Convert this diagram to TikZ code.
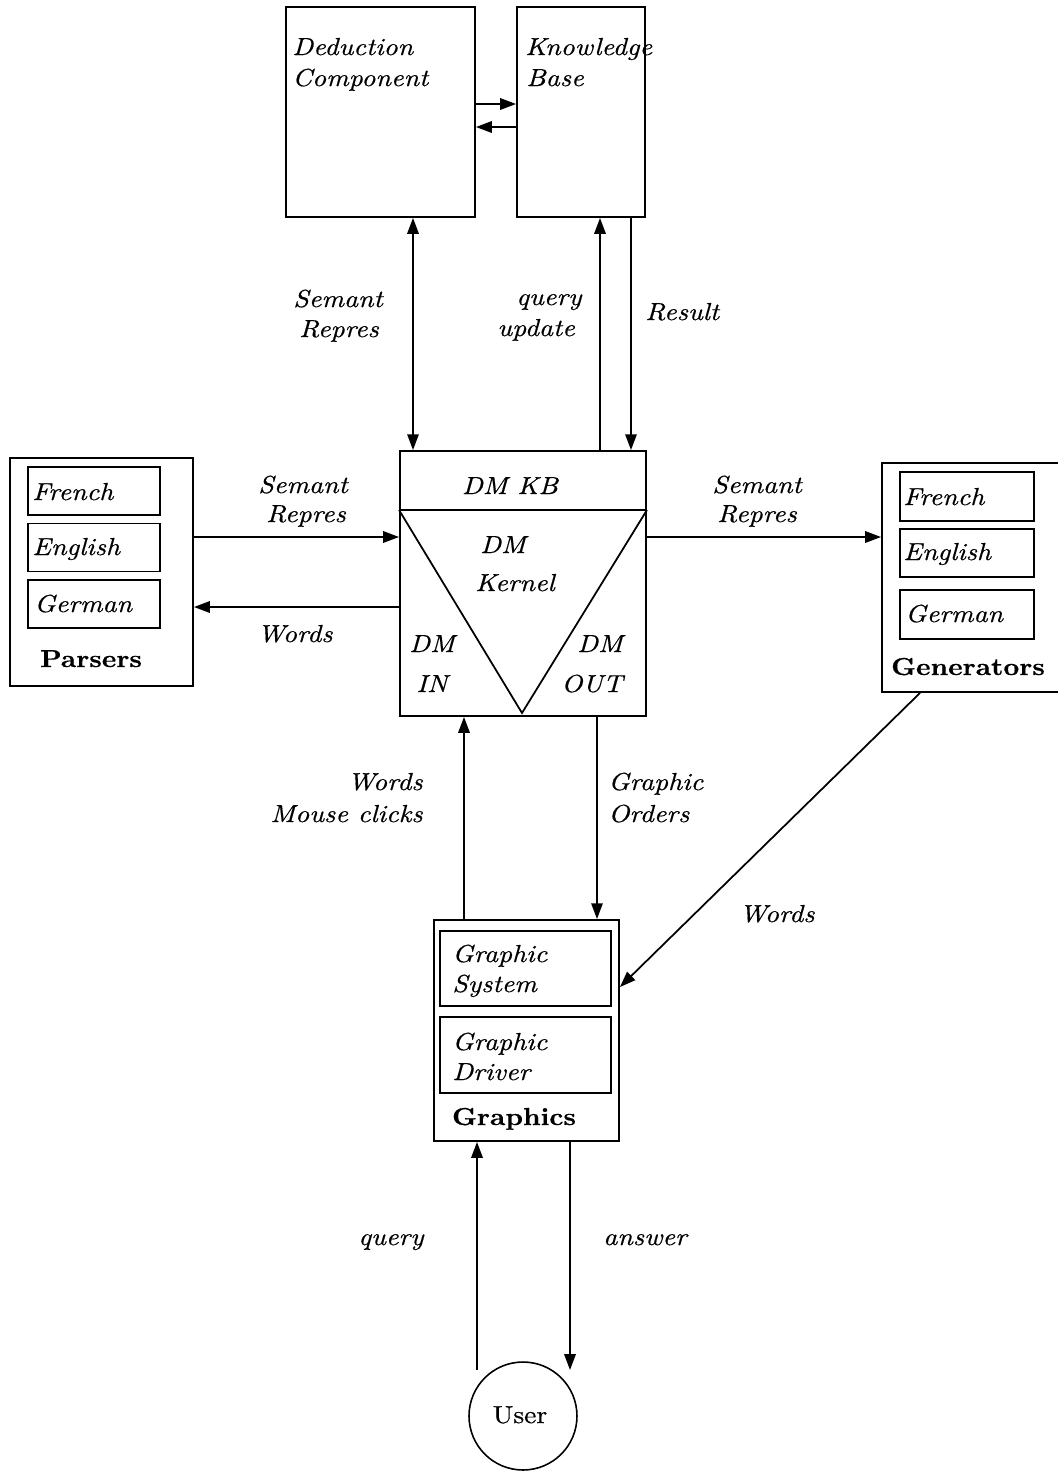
\documentclass[tikz,border=0pt]{standalone}
\usepackage{fontspec}
\setmainfont{lmroman10}[Extension=.otf,UprightFont=*-regular,ItalicFont=*-italic,BoldFont=*-bold,BoldItalicFont=*-bolditalic,FakeStretch=1.12,FakeBold=0.5]
\usetikzlibrary{arrows.meta}
\newcommand\itf{\fontsize{14}{16}\selectfont\itshape}
\newcommand\bff{\fontsize{14}{16}\selectfont\bfseries}
\newcommand\rmf{\fontsize{14}{16}\selectfont}
\begin{document}
\begin{tikzpicture}[x=0.02cm,y=-0.02cm,
 box/.style={draw,line width=1.1pt,inner sep=0pt,rectangle},
 ibox/.style={draw,line width=0.8pt,inner sep=0pt,rectangle},
 tx/.style={inner sep=0pt,font=\itf,anchor=base},
 txw/.style={tx,anchor=base west},
 txe/.style={tx,anchor=base east},
 bt/.style={inner sep=0pt,font=\bff,anchor=base},
 arr/.style={line width=1pt,-{Triangle[length=9pt,width=6.5pt]}},
 darr/.style={line width=1pt,{Triangle[length=9pt,width=6.5pt]}-{Triangle[length=9pt,width=6.5pt]}}]
\fill[white] (0,0) rectangle (1058,1472);
\useasboundingbox (0,0) rectangle (1058,1472);

% ---- boxes ----
\node[box,minimum width=3.78cm,minimum height=4.2cm] (ded) at (380.5,112) {};
\node[box,minimum width=2.56cm,minimum height=4.2cm] (kb) at (581,112) {};
\node[box,minimum width=4.92cm,minimum height=5.3cm] (dm) at (523,583.5) {};
\node[box,minimum width=3.66cm,minimum height=4.56cm] (par) at (101.5,572) {};
\node[ibox,minimum width=2.64cm,minimum height=0.96cm] (pfr) at (94,491) {};
\node[ibox,minimum width=2.64cm,minimum height=0.96cm] (pen) at (94,547.5) {};
\node[ibox,minimum width=2.64cm,minimum height=0.96cm] (pge) at (94,604) {};
\node[box,minimum width=3.76cm,minimum height=4.58cm] (gen) at (976,577.5) {};
\node[ibox,minimum width=2.68cm,minimum height=0.98cm] (gfr) at (967,496.5) {};
\node[ibox,minimum width=2.68cm,minimum height=0.96cm] (gen2) at (967,553) {};
\node[ibox,minimum width=2.68cm,minimum height=0.98cm] (gge) at (967,614.5) {};
\node[box,minimum width=3.7cm,minimum height=4.42cm] (gra) at (526.5,1030.5) {};
\node[ibox,minimum width=3.42cm,minimum height=1.5cm] (gsys) at (525.5,968.5) {};
\node[ibox,minimum width=3.42cm,minimum height=1.52cm] (gdrv) at (525.5,1055) {};
\node[draw,circle,line width=0.9pt,minimum size=2.16cm,inner sep=0pt] (user) at (523,1416) {};

% ---- DM internals ----
\coordinate (kbl) at (0,510);
\coordinate (apex) at (522,713);
\draw[line width=1.1pt] (dm.west |- kbl) -- (dm.east |- kbl);
\draw[line width=1pt] (dm.west |- kbl) -- (apex) -- (dm.east |- kbl);

% ---- texts in boxes ----
\node[txw] at (292,55) {Deduction};
\node[txw] at (292,86) {Component};
\node[txw] at (525,55) {Knowledge};
\node[txw] at (526,86) {Base};
\node[tx] at (510,494) {DM KB};
\node[tx] at (503,553) {DM};
\node[tx] at (515,591) {Kernel};
\node[tx] at (432,652) {DM};
\node[tx] at (432,692) {IN};
\node[tx] at (600,652) {DM};
\node[tx] at (592,692) {OUT};
\node[txw] at (32,500) {French};
\node[txw] at (32,555) {English};
\node[txw] at (34,612) {German};
\node[bt] at (91,667) {Parsers};
\node[txw] at (903,505) {French};
\node[txw] at (903,560) {English};
\node[txw] at (905,622) {German};
\node[bt] at (968,675) {Generators};
\node[txw] at (452,962) {Graphic};
\node[txw] at (452,992) {System};
\node[txw] at (452,1050) {Graphic};
\node[txw] at (452,1080) {Driver};
\node[bt] at (514,1125) {Graphics};
\node[inner sep=0pt,font=\rmf,anchor=base] at (520,1423) {User};

% ---- connector anchors ----
\coordinate (y1) at (0,104);
\coordinate (y2) at (0,127);
\coordinate (xs) at (413,0);
\coordinate (xq) at (600,0);
\coordinate (xr) at (631,0);
\coordinate (ysr) at (0,537);
\coordinate (yw) at (0,607);
\coordinate (xg) at (920,0);
\coordinate (yg) at (0,987);
\coordinate (xw) at (464,0);
\coordinate (xo) at (597,0);
\coordinate (uq) at (477,1370);
\coordinate (ua) at (570,1370);

% ---- connectors ----
\draw[arr] (ded.east |- y1) -- (kb.west |- y1);
\draw[arr] (kb.west |- y2) -- (ded.east |- y2);
\draw[darr] (ded.south -| xs) -- (dm.north -| xs);
\draw[arr] (dm.north -| xq) -- (kb.south -| xq);
\draw[arr] (kb.south -| xr) -- (dm.north -| xr);
\draw[arr] (par.east |- ysr) -- (dm.west |- ysr);
\draw[arr] (dm.west |- yw) -- (par.east |- yw);
\draw[arr] (dm.east |- ysr) -- (gen.west |- ysr);
\draw[arr] (gen.south -| xg) -- (gra.east |- yg);
\draw[arr] (gra.north -| xw) -- (dm.south -| xw);
\draw[arr] (dm.south -| xo) -- (gra.north -| xo);
\draw[arr] (uq) -- (gra.south -| uq);
\draw[arr] (gra.south -| ua) -- (ua);

% ---- connector labels ----
\node[tx] at (338,307) {Semant};
\node[tx] at (339,337) {Repres};
\node[txw] at (516,305) {query};
\node[txw] at (497,336) {update};
\node[txw] at (645,320) {Result};
\node[tx] at (303,493) {Semant};
\node[tx] at (306,522) {Repres};
\node[tx] at (295,642) {Words};
\node[tx] at (757,493) {Semant};
\node[tx] at (757,522) {Repres};
\node[txe] at (423,790) {Words};
\node[txe] at (423,822) {Mouse clicks};
\node[txw] at (608,790) {Graphic};
\node[txw] at (608,822) {Orders};
\node[tx] at (777,922) {Words};
\node[tx] at (391,1245) {query};
\node[tx] at (645,1245) {answer};
\end{tikzpicture}
\end{document}
